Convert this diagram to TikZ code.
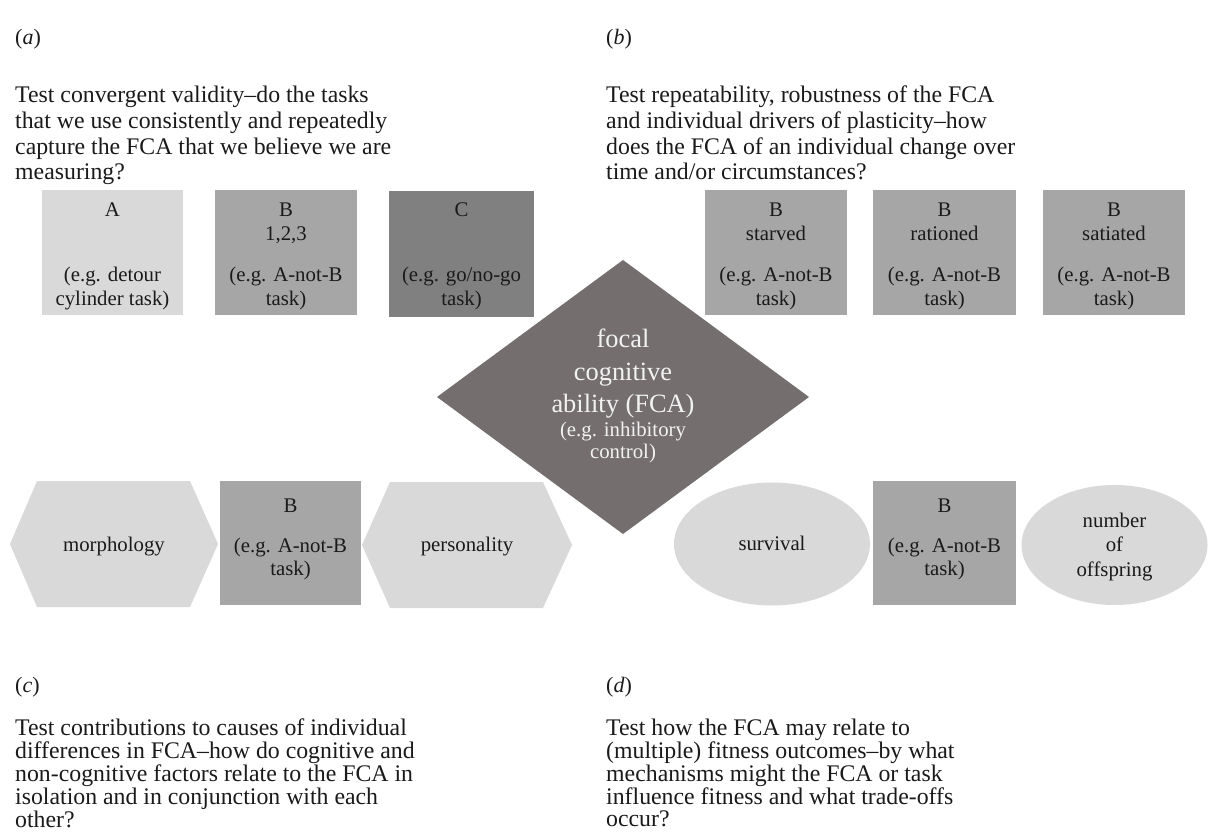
\documentclass[tikz,border=0pt]{standalone}
\usepackage{fontspec}
\setmainfont{Liberation Serif}
\usetikzlibrary{shapes.geometric}
\definecolor{lgray}{RGB}{217,217,217}
\definecolor{mgray}{RGB}{166,166,166}
\definecolor{dgray}{RGB}{128,128,128}
\definecolor{diam}{RGB}{116,110,111}
\definecolor{dtext}{RGB}{242,242,242}
\definecolor{ink}{RGB}{26,26,26}
\newcommand\ctext[1]{\begin{tabular}[t]{@{}c@{}}#1\end{tabular}}
\newcommand\ltext[1]{\begin{tabular}[t]{@{}l@{}}#1\end{tabular}}
\begin{document}
\begin{tikzpicture}[x=1pt,y=-1pt,
  box/.style={inner sep=0pt, outer sep=0pt, anchor=north west, minimum width=142pt, minimum height=125pt},
  txt/.style={inner sep=0pt, anchor=base, text=ink, font=\fontsize{20.8}{24}\selectfont},
  para/.style={inner sep=0pt, anchor=base west, text=ink, font=\fontsize{23.8}{25.6}\selectfont},
  lab/.style={inner sep=0pt, anchor=base west, text=ink, font=\fontsize{22}{24}\selectfont},
  big/.style={inner sep=0pt, anchor=base, text=dtext, font=\fontsize{26.4}{32.5}\selectfont},
  small/.style={inner sep=0pt, anchor=base, text=dtext, font=\fontsize{20.8}{21.5}\selectfont},
  oval/.style={ellipse, inner sep=0pt, fill=lgray}]
\useasboundingbox[fill=white] (0,0) rectangle (1211,834);

% panel labels and paragraphs
\node[lab] (la) at (15,45) {(\textit{a})};
\node[lab] (lb) at (606,45) {(\textit{b})};
\node[lab] (lc) at (15,692) {(\textit{c})};
\node[lab] (ld) at (606,692) {(\textit{d})};
\node[para] (pa) at (15,103) {\ltext{Test convergent validity--do the tasks\\that we use consistently and repeatedly\\capture the FCA that we believe we are\\measuring?}};
\node[para] (pb) at (606,103) {\ltext{Test repeatability, robustness of the FCA\\and individual drivers of plasticity--how\\does the FCA of an individual change over\\time and/or circumstances?}};
\node[para, font=\fontsize{23.8}{21.8}\selectfont] (pc) at (15,735) {\ltext{Test contributions to causes of individual\\differences in FCA--how do cognitive and\\non-cognitive factors relate to the FCA in\\isolation and in conjunction with each\\other?}};
\node[para, font=\fontsize{23.8}{21.8}\selectfont] (pd) at (606,735) {\ltext{Test how the FCA may relate to\\(multiple) fitness outcomes--by what\\mechanisms might the FCA or task\\influence fitness and what trade-offs\\occur?}};

% top row boxes
\node[box, fill=lgray, minimum width=141pt] (bA) at (42,190) {};
\node[box, fill=mgray] (bB) at (215,190) {};
\node[box, fill=dgray, minimum width=145pt, minimum height=126pt] (bC) at (389,191) {};
\node[box, fill=mgray] (bS) at (705,190) {};
\node[box, fill=mgray, minimum width=143pt] (bR) at (873,190) {};
\node[box, fill=mgray] (bT) at (1043,190) {};

\node[txt] (tA1) at (112.5,217) {\ctext{A}};
\node[txt] (tA2) at (112.5,282) {\ctext{(e.g. detour\\cylinder task)}};
\node[txt] (tB1) at (286,217) {\ctext{B\\1,2,3}};
\node[txt] (tB2) at (286,282) {\ctext{(e.g. A-not-B\\task)}};
\node[txt] (tC1) at (461.5,217) {\ctext{C}};
\node[txt] (tC2) at (461.5,282) {\ctext{(e.g. go/no-go\\task)}};
\node[txt] (tS1) at (776,217) {\ctext{B\\starved}};
\node[txt] (tS2) at (776,282) {\ctext{(e.g. A-not-B\\task)}};
\node[txt] (tR1) at (944.5,217) {\ctext{B\\rationed}};
\node[txt] (tR2) at (944.5,282) {\ctext{(e.g. A-not-B\\task)}};
\node[txt] (tT1) at (1114,217) {\ctext{B\\satiated}};
\node[txt] (tT2) at (1114,282) {\ctext{(e.g. A-not-B\\task)}};

% central diamond
\fill[diam] (623,260) -- (809,397) -- (623,534) -- (437,397) -- cycle;
\node[big] (fca1) at (623,348) {\ctext{focal\\cognitive\\ability (FCA)}};
\node[small] (fca2) at (623,436.5) {\ctext{(e.g. inhibitory\\control)}};

% bottom left row
\fill[lgray] (10,544) -- (37,481) -- (190,481) -- (218,544) -- (190,607) -- (37,607) -- cycle;
\node[box, fill=mgray, minimum width=141pt, minimum height=124pt] (bL) at (220,481) {};
\fill[lgray] (362,545) -- (390,482) -- (543,482) -- (572,545) -- (543,608) -- (390,608) -- cycle;
\node[txt] (tmor) at (114,551) {morphology};
\node[txt] (tL1) at (290.5,512) {\ctext{B}};
\node[txt, font=\fontsize{20.8}{23.5}\selectfont] (tL2) at (290.5,552) {\ctext{(e.g. A-not-B\\task)}};
\node[txt] (tper) at (467,551) {personality};

% bottom right row
\node[oval, minimum width=196pt, minimum height=123pt] (surv) at (772,544) {};
\node[box, fill=mgray, minimum width=143pt, minimum height=124pt] (bRr) at (873,481) {};
\node[oval, minimum width=186pt, minimum height=120pt] (offs) at (1114.5,545) {};
\node[txt] (tsur) at (772,550) {survival};
\node[txt] (tRr1) at (944.5,512) {\ctext{B}};
\node[txt, font=\fontsize{20.8}{23.5}\selectfont] (tRr2) at (944.5,552) {\ctext{(e.g. A-not-B\\task)}};
\node[txt, font=\fontsize{20.8}{24.5}\selectfont] (toff) at (1114.5,527) {\ctext{number\\of\\offspring}};
\end{tikzpicture}
\end{document}
